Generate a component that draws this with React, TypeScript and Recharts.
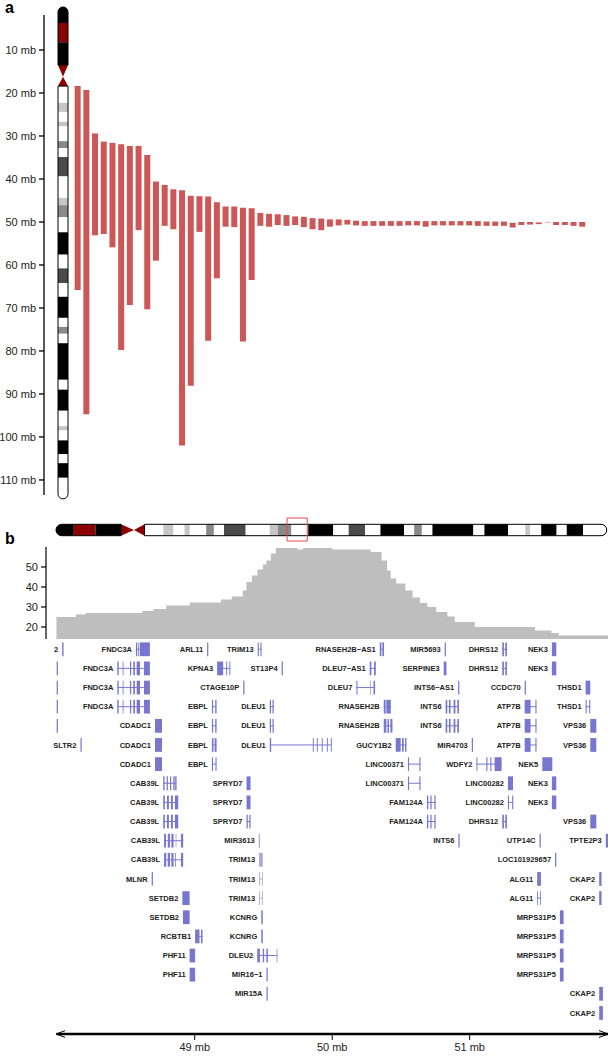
import React from 'react';
import {
  ComposedChart,
  AreaChart,
  Area,
  Bar,
  XAxis,
  YAxis,
  ReferenceArea,
  ReferenceLine,
  Rectangle,
} from 'recharts';

const FONT = '"Liberation Sans", Arial, Helvetica, sans-serif';

// ---------- Panel a: deleted segments on chromosome 13 (Mb) ----------
const segStart = [
  18.4, 19.3, 29.4, 31.3, 31.6, 31.9, 32.3, 32.3, 34.4, 40.6, 41.4, 42.4, 42.6, 43.9, 44.0, 44.1,
  45.4, 46.4, 46.4, 46.7, 46.8, 47.9, 48.1, 48.2, 48.4, 48.7, 48.8, 49.1, 49.2, 49.4, 49.4, 49.5,
  49.7, 49.8, 49.8, 49.8, 49.8, 49.8, 49.8, 49.8, 49.8, 49.8, 49.8, 49.8, 49.8, 49.8, 49.8, 49.9,
  49.9, 49.9, 50.2, 50.0, 50.0, 50.1, 50.1, 50.0, 50.0, 50.0, 50.0,
];
const segEnd = [
  65.8, 94.7, 53.1, 52.8, 55.9, 79.8, 69.3, 51.9, 70.3, 59.0, 50.9, 51.7, 102.0, 88.1, 52.3, 77.6,
  63.1, 51.1, 51.2, 77.8, 63.5, 50.9, 51.1, 50.7, 50.9, 50.7, 51.2, 51.7, 51.9, 51.1, 50.8, 50.6,
  50.8, 50.9, 50.9, 50.9, 50.9, 50.9, 50.8, 50.8, 51.1, 50.8, 50.8, 50.8, 50.8, 50.8, 50.9, 50.9,
  50.9, 50.9, 51.3, 50.7, 50.6, 50.5, 50.2, 50.7, 50.7, 50.9, 51.1,
];
const mbTicks = [10, 20, 30, 40, 50, 60, 70, 80, 90, 100, 110];

// ---------- Chromosome 13 ideogram bands (Mb) ----------
const bandStart = [
  0, 3.7, 8.2, 13.5, 16.2, 18.4, 22.3, 24.4, 26.7, 27.8, 31.2, 32.8, 34.9, 39.4, 44.4, 46.1, 48.9,
  52.4, 57.6, 60.8, 64.2, 67.4, 72.3, 74.4, 76.0, 78.2, 86.7, 89.0, 93.9, 97.5, 98.5, 100.8, 104.0,
  106.1, 109.5,
];
const bandEnd = [
  3.7, 8.2, 13.5, 16.2, 18.4, 22.3, 24.4, 26.7, 27.8, 31.2, 32.8, 34.9, 39.4, 44.4, 46.1, 48.9, 52.4,
  57.6, 60.8, 64.2, 67.4, 72.3, 74.4, 76.0, 78.2, 86.7, 89.0, 93.9, 97.5, 98.5, 100.8, 104.0, 106.1,
  109.5, 114.4,
];
const bandStain = [
  'gvar', 'stalk', 'gvar', 'acen', 'acen', 'gneg', 'gpos25', 'gneg', 'gpos25', 'gneg', 'gpos50',
  'gneg', 'gpos75', 'gneg', 'gpos25', 'gpos50', 'gneg', 'gpos100', 'gneg', 'gpos75', 'gneg',
  'gpos100', 'gneg', 'gpos50', 'gneg', 'gpos100', 'gneg', 'gpos100', 'gneg', 'gpos25', 'gneg',
  'gpos100', 'gneg', 'gpos100', 'gneg',
];
const stainColor: Record<string, string> = {
  gneg: '#ffffff',
  gpos25: '#c6c6c6',
  gpos50: '#8a8a8a',
  gpos75: '#4a4a4a',
  gpos100: '#000000',
  gvar: '#000000',
  stalk: '#8b0000',
  acen: '#8b0000',
};
const zoomRegion = [48.0, 52.2];

// ---------- Panel b: coverage profile (step positions in Mb, value) ----------
const covPos = [
  47.994, 48.135, 48.207, 48.619, 48.699, 48.792, 48.964, 49.19, 49.269, 49.349, 49.376, 49.416,
  49.456, 49.496, 49.522, 49.554, 49.589, 49.748, 49.788, 50.0, 50.28, 50.359, 50.399, 50.425,
  50.465, 50.532, 50.585, 50.638, 50.691, 50.757, 50.837, 50.891, 51.037, 51.475, 51.595, 51.648,
  52.006,
];
const covVal = [
  25, 26.2, 27, 28, 29, 30.8, 32.2, 33.7, 35.3, 38.3, 42.5, 45.8, 48.7, 51.2, 53.3, 56.7, 59.5, 58.7,
  59.5, 58.7, 57.5, 53.3, 48.3, 44.2, 41.7, 38.3, 34.7, 32, 30, 27.5, 25.3, 22.5, 20, 18.3, 17, 15.8,
  15.8,
];
const covTicks = [20, 30, 40, 50];

// ---------- Gene track: [row, name, exons in Mb, pale?] ----------
type Gene = [number, string, number[][], boolean?];
const genes: Gene[] = [
  [0, '2', [[48.036, 48.046]]],
  [0, 'FNDC3A', [[48.573, 48.582], [48.59, 48.597], [48.602, 48.674]]],
  [0, 'ARL11', [[49.09, 49.099]]],
  [0, 'TRIM13', [[49.458, 49.466], [49.478, 49.486]]],
  [0, 'RNASEH2B\u2212AS1', [[50.346, 50.358], [50.365, 50.377]]],
  [0, 'MIR5693', [[50.818, 50.827]]],
  [0, 'DHRS12', [[51.237, 51.249], [51.259, 51.271]]],
  [0, 'NEK3', [[51.598, 51.63]]],

  [1, '', [[47.996, 48.005]]],
  [1, 'FNDC3A', [[48.437, 48.447], [48.476, 48.482], [48.529, 48.538], [48.553, 48.565], [48.578, 48.602], [48.631, 48.674]]],
  [1, 'KPNA3', [[49.163, 49.207], [49.229, 49.236], [49.252, 49.259]]],
  [1, 'ST13P4', [[49.632, 49.641]]],
  [1, 'DLEU7\u2212AS1', [[50.273, 50.285], [50.304, 50.317]]],
  [1, 'SERPINE3', [[50.811, 50.831]]],
  [1, 'DHRS12', [[51.237, 51.249], [51.259, 51.271]]],
  [1, 'NEK3', [[51.598, 51.63]]],

  [2, '', [[47.996, 48.005]]],
  [2, 'FNDC3A', [[48.437, 48.447], [48.476, 48.482], [48.529, 48.538], [48.553, 48.565], [48.578, 48.602], [48.631, 48.674]]],
  [2, 'CTAGE10P', [[49.353, 49.362]]],
  [2, 'DLEU7', [[50.176, 50.184], [50.276, 50.28], [50.3, 50.312]]],
  [2, 'INTS6\u2212AS1', [[50.916, 50.925]]],
  [2, 'CCDC70', [[51.4, 51.409]]],
  [2, 'THSD1', [[51.843, 51.877]]],

  [3, '', [[47.996, 48.005]]],
  [3, 'FNDC3A', [[48.437, 48.447], [48.476, 48.482], [48.529, 48.538], [48.553, 48.565], [48.578, 48.602], [48.631, 48.674]]],
  [3, 'EBPL', [[49.125, 49.134], [49.149, 49.159]]],
  [3, 'DLEU1', [[49.546, 49.555], [49.566, 49.575]]],
  [3, 'RNASEH2B', [[50.375, 50.389], [50.394, 50.426]]],
  [3, 'INTS6', [[50.825, 50.837], [50.849, 50.861], [50.883, 50.896], [50.91, 50.922]]],
  [3, 'ATP7B', [[51.4, 51.443], [51.478, 51.486]]],
  [3, 'THSD1', [[51.843, 51.851], [51.869, 51.877]]],

  [4, '', [[47.996, 48.005]]],
  [4, 'CDADC1', [[48.711, 48.762]]],
  [4, 'EBPL', [[49.125, 49.134], [49.149, 49.159]]],
  [4, 'DLEU1', [[49.546, 49.555], [49.566, 49.575]]],
  [4, 'RNASEH2B', [[50.375, 50.394], [50.402, 50.413], [50.423, 50.438]]],
  [4, 'INTS6', [[50.825, 50.837], [50.849, 50.861], [50.883, 50.896], [50.91, 50.922]]],
  [4, 'ATP7B', [[51.4, 51.443], [51.478, 51.486]]],
  [4, 'VPS36', [[51.877, 51.921]]],

  [5, 'SLTR2', [[48.169, 48.178]]],
  [5, 'CDADC1', [[48.711, 48.762]]],
  [5, 'EBPL', [[49.125, 49.137], [49.145, 49.159]]],
  [5, 'DLEU1', [[49.546, 49.556], [49.859, 49.866], [49.888, 49.895], [49.924, 49.931], [49.961, 49.968], [49.99, 49.997]]],
  [5, 'GUCY1B2', [[50.462, 50.498], [50.508, 50.52], [50.53, 50.54]]],
  [5, 'MIR4703', [[51.015, 51.024]]],
  [5, 'ATP7B', [[51.4, 51.443], [51.478, 51.486]]],
  [5, 'VPS36', [[51.877, 51.921]]],

  [6, 'CDADC1', [[48.711, 48.762]]],
  [6, 'EBPL', [[49.125, 49.133], [49.151, 49.159]]],
  [6, 'LINC00371', [[50.551, 50.559], [50.634, 50.642]]],
  [6, 'WDFY2', [[51.049, 51.056], [51.121, 51.129], [51.15, 51.158], [51.181, 51.232]]],
  [6, 'NEK5', [[51.528, 51.601]]],

  [7, 'CAB39L', [[48.771, 48.781], [48.796, 48.805], [48.82, 48.829], [48.844, 48.854], [48.858, 48.868]]],
  [7, 'SPRYD7', [[49.377, 49.406]]],
  [7, 'LINC00371', [[50.551, 50.559], [50.634, 50.642]]],
  [7, 'LINC00282', [[51.278, 51.315]]],
  [7, 'NEK3', [[51.598, 51.63]]],

  [8, 'CAB39L', [[48.771, 48.783], [48.798, 48.812], [48.827, 48.841], [48.856, 48.88]]],
  [8, 'SPRYD7', [[49.377, 49.406]]],
  [8, 'FAM124A', [[50.689, 50.699], [50.714, 50.723], [50.743, 50.752]]],
  [8, 'LINC00282', [[51.278, 51.286], [51.309, 51.317]]],
  [8, 'NEK3', [[51.598, 51.63]]],

  [9, 'CAB39L', [[48.771, 48.783], [48.798, 48.812], [48.827, 48.841], [48.856, 48.88]]],
  [9, 'SPRYD7', [[49.377, 49.386], [49.397, 49.406]]],
  [9, 'FAM124A', [[50.689, 50.699], [50.714, 50.723], [50.743, 50.752]]],
  [9, 'DHRS12', [[51.237, 51.249], [51.259, 51.271]]],
  [9, 'VPS36', [[51.877, 51.921]]],

  [10, 'CAB39L', [[48.777, 48.791], [48.804, 48.82], [48.83, 48.846], [48.862, 48.866], [48.9, 48.916]]],
  [10, 'MIR3613', [[49.466, 49.475]], true],
  [10, 'INTS6', [[50.918, 50.927]]],
  [10, 'UTP14C', [[51.508, 51.517]]],
  [10, 'TPTE2P3', [[51.99, 52.006]]],

  [11, 'CAB39L', [[48.777, 48.793], [48.804, 48.82], [48.83, 48.846], [48.856, 48.862], [48.9, 48.916]]],
  [11, 'TRIM13', [[49.468, 49.495]], true],
  [11, 'LOC101929657', [[51.621, 51.63]]],

  [12, 'MLNR', [[48.687, 48.696]]],
  [12, 'TRIM13', [[49.468, 49.474], [49.489, 49.495]], true],
  [12, 'ALG11', [[51.491, 51.518]]],
  [12, 'CKAP2', [[51.942, 51.959]]],

  [13, 'SETDB2', [[48.91, 48.963]]],
  [13, 'TRIM13', [[49.468, 49.474], [49.489, 49.495]], true],
  [13, 'ALG11', [[51.491, 51.497], [51.512, 51.518]]],
  [13, 'CKAP2', [[51.942, 51.959]]],

  [14, 'SETDB2', [[48.915, 48.963]]],
  [14, 'KCNRG', [[49.484, 49.495]]],
  [14, 'MRPS31P5', [[51.656, 51.683]]],

  [15, 'RCBTB1', [[49.003, 49.035], [49.046, 49.057]]],
  [15, 'KCNRG', [[49.484, 49.495]]],
  [15, 'MRPS31P5', [[51.656, 51.683]]],

  [16, 'PHF11', [[48.963, 49.003]]],
  [16, 'DLEU2', [[49.455, 49.474], [49.495, 49.505], [49.521, 49.532], [49.596, 49.601]]],
  [16, 'MRPS31P5', [[51.656, 51.683]]],

  [17, 'PHF11', [[48.963, 49.003]]],
  [17, 'MIR16\u22121', [[49.522, 49.531]]],
  [17, 'MRPS31P5', [[51.656, 51.683]]],

  [18, 'MIR15A', [[49.522, 49.531]]],
  [18, 'CKAP2', [[51.942, 51.969]]],

  [19, 'CKAP2', [[51.942, 51.969]]],
];
const geneAxisTicks = [49, 50, 51];

// ---------- helpers ----------
const BAR_RED = '#cd5757';
const GENE_BLUE = '#7777d0';
const GENE_PALE = '#a9a9e2';
const ACEN_RED = '#8b0000';

function ideogramBands(orientation: 'v' | 'h', cross: [number, number], r: number) {
  const n = bandStart.length;
  const acenIdx = bandStain.map((s, i) => (s === 'acen' ? i : -1)).filter((i) => i >= 0);
  const qStart = bandEnd[acenIdx[acenIdx.length - 1]];
  const pEnd = bandStart[acenIdx[0]];
  const pos = (a: number, b: number) =>
    orientation === 'v'
      ? { x1: cross[0], x2: cross[1], y1: a, y2: b }
      : { x1: a, x2: b, y1: cross[0], y2: cross[1] };
  const out: React.ReactNode[] = [];
  for (let i = 0; i < n; i++) {
    const color = stainColor[bandStain[i]];
    let shape: any;
    if (bandStain[i] === 'acen') {
      const first = i === acenIdx[0];
      shape = (p: any) => {
        const { x, y, width: w, height: h } = p;
        let pts = '';
        if (orientation === 'v') {
          pts = first
            ? `${x},${y} ${x + w},${y} ${x + w / 2},${y + h}`
            : `${x + w / 2},${y} ${x + w},${y + h} ${x},${y + h}`;
        } else {
          pts = first
            ? `${x},${y} ${x + w},${y + h / 2} ${x},${y + h}`
            : `${x},${y + h / 2} ${x + w},${y} ${x + w},${y + h}`;
        }
        return <polygon points={pts} fill={ACEN_RED} />;
      };
    } else if (i === 0) {
      shape = (p: any) => (
        <Rectangle
          x={p.x}
          y={p.y}
          width={p.width}
          height={p.height}
          radius={orientation === 'v' ? [r, r, 0, 0] : [r, 0, 0, r]}
          fill={color}
        />
      );
    } else if (i === n - 1) {
      shape = (p: any) => (
        <Rectangle
          x={p.x}
          y={p.y}
          width={p.width}
          height={p.height}
          radius={orientation === 'v' ? [0, 0, r, r] : [0, r, r, 0]}
          fill={color}
        />
      );
    } else {
      shape = (p: any) => <rect x={p.x} y={p.y} width={p.width} height={p.height} fill={color} />;
    }
    out.push(
      <ReferenceArea
        key={`band-${i}`}
        {...pos(bandStart[i], bandEnd[i])}
        ifOverflow="visible"
        shape={shape}
      />
    );
  }
  out.push(
    <ReferenceArea
      key="outline-p"
      {...pos(bandStart[0], pEnd)}
      ifOverflow="visible"
      shape={(p: any) => (
        <Rectangle
          x={p.x}
          y={p.y}
          width={p.width}
          height={p.height}
          radius={orientation === 'v' ? [r, r, 0, 0] : [r, 0, 0, r]}
          fill="none"
          stroke="#000"
          strokeWidth={1}
        />
      )}
    />
  );
  out.push(
    <ReferenceArea
      key="outline-q"
      {...pos(qStart, bandEnd[n - 1])}
      ifOverflow="visible"
      shape={(p: any) => (
        <Rectangle
          x={p.x}
          y={p.y}
          width={p.width}
          height={p.height}
          radius={orientation === 'v' ? [0, 0, r, r] : [0, r, r, 0]}
          fill="none"
          stroke="#000"
          strokeWidth={1}
        />
      )}
    />
  );
  return out;
}

const segData = segStart.map((s, i) => ({ pos: i, span: [s, segEnd[i]] }));
const covData = covPos.map((p, i) => ({ pos: p, cov: covVal[i] }));

const MbTick = (props: any) => {
  const { x, y, payload } = props;
  return (
    <text x={x} y={y} dy={4} textAnchor="end" fontSize={11} fill="#222" fontFamily={FONT}>
      {`${payload.value} mb`}
    </text>
  );
};

function PanelA() {
  return (
    <ComposedChart
      width={610}
      height={510}
      data={segData}
      margin={{ top: 15, right: 10, bottom: 15, left: 0 }}
    >
      <XAxis type="number" dataKey="pos" domain={[-3.91, 60]} hide allowDataOverflow />
      <YAxis
        type="number"
        domain={[1.86, 113.5]}
        reversed
        allowDataOverflow
        ticks={mbTicks}
        width={44}
        tickSize={5}
        tickMargin={3}
        axisLine={{ stroke: '#000', strokeWidth: 1.3 }}
        tickLine={{ stroke: '#000', strokeWidth: 1.3 }}
        tick={<MbTick />}
      />
      {ideogramBands('v', [-2.3, -1.15], 5)}
      <Bar dataKey="span" fill={BAR_RED} barSize={6} isAnimationActive={false} />
    </ComposedChart>
  );
}

function HorizontalIdeogram() {
  return (
    <ComposedChart
      width={610}
      height={45}
      data={[{ v: 0 }, { v: 114.4 }]}
      margin={{ top: 0, right: 3.3, bottom: 0, left: 56 }}
    >
      <XAxis type="number" dataKey="v" domain={[0, 114.4]} hide allowDataOverflow />
      <YAxis type="number" domain={[0, 45]} reversed hide allowDataOverflow />
      {ideogramBands('h', [19.3, 30.7], 6)}
      <ReferenceArea
        x1={zoomRegion[0]}
        x2={zoomRegion[1]}
        y1={13}
        y2={36}
        ifOverflow="visible"
        fill="none"
        fillOpacity={0}
        stroke="#e04848"
        strokeWidth={1}
      />
    </ComposedChart>
  );
}

function Coverage() {
  return (
    <AreaChart
      width={610}
      height={105}
      data={covData}
      margin={{ top: 7, right: 2, bottom: 6, left: 0 }}
    >
      <XAxis type="number" dataKey="pos" domain={[47.918, 52.006]} hide allowDataOverflow />
      <YAxis
        type="number"
        domain={[14, 60]}
        ticks={covTicks}
        width={46}
        tickSize={5}
        tickMargin={3}
        allowDataOverflow
        axisLine={{ stroke: '#000', strokeWidth: 1.2 }}
        tickLine={{ stroke: '#000', strokeWidth: 1.2 }}
        tick={{ fontSize: 11, fill: '#222', fontFamily: FONT }}
      />
      <Area
        type="stepAfter"
        dataKey="cov"
        fill="#bebebe"
        fillOpacity={1}
        stroke="none"
        baseValue={14}
        isAnimationActive={false}
      />
    </AreaChart>
  );
}

function GeneTrack() {
  const els: React.ReactNode[] = [];
  genes.forEach(([row, name, exons, pale], gi) => {
    const color = pale ? GENE_PALE : GENE_BLUE;
    const s = exons[0][0];
    const e = exons[exons.length - 1][1];
    if (exons.length > 1) {
      els.push(
        <ReferenceLine
          key={`intron-${gi}`}
          segment={[
            { x: s, y: row },
            { x: e, y: row },
          ]}
          stroke={color}
          strokeWidth={1}
          ifOverflow="visible"
        />
      );
    }
    exons.forEach(([a, b], ei) => {
      els.push(
        <ReferenceArea
          key={`exon-${gi}-${ei}`}
          x1={a}
          x2={b}
          y1={row - 0.36}
          y2={row + 0.36}
          fill={color}
          fillOpacity={1}
          stroke="none"
          ifOverflow="visible"
          label={
            ei === 0 && name
              ? {
                  value: name,
                  position: 'left',
                  offset: 4,
                  fontSize: 7.5,
                  fontWeight: 700,
                  fill: '#222',
                  fontFamily: FONT,
                }
              : undefined
          }
        />
      );
    });
  });
  return (
    <ComposedChart
      width={610}
      height={422}
      data={[{ x: 47.994 }, { x: 52.006 }]}
      margin={{ top: 3.7, right: 2, bottom: 0, left: 56.4 }}
    >
      <XAxis
        type="number"
        dataKey="x"
        domain={[47.994, 52.006]}
        allowDataOverflow
        ticks={geneAxisTicks}
        tickFormatter={(v: number) => `${v} mb`}
        height={24}
        tickSize={6}
        tickMargin={3}
        axisLine={{
          stroke: '#000',
          strokeWidth: 2.5,
          markerStart: 'url(#arrowStart)',
          markerEnd: 'url(#arrowEnd)',
        }}
        tickLine={{ stroke: '#000', strokeWidth: 1 }}
        tick={{ fontSize: 11, fill: '#222', fontFamily: FONT }}
      />
      <YAxis type="number" domain={[-0.5, 20.1]} reversed hide allowDataOverflow />
      {els}
    </ComposedChart>
  );
}

export default function App() {
  const abs = (top: number): React.CSSProperties => ({ position: 'absolute', left: 0, top });
  return (
    <div
      style={{
        position: 'absolute',
        left: 0,
        top: 0,
        width: 610,
        height: 1058,
        background: '#fff',
        overflow: 'hidden',
        fontFamily: FONT,
      }}
    >
      <svg width={0} height={0} style={{ position: 'absolute' }}>
        <defs>
          <marker
            id="arrowEnd"
            markerWidth={10}
            markerHeight={8}
            refX={9}
            refY={4}
            orient="auto"
            markerUnits="userSpaceOnUse"
          >
            <path d="M0,0.5 L9,4 L0,7.5" fill="none" stroke="#000" strokeWidth={1} />
          </marker>
          <marker
            id="arrowStart"
            markerWidth={10}
            markerHeight={8}
            refX={1}
            refY={4}
            orient="auto"
            markerUnits="userSpaceOnUse"
          >
            <path d="M10,0.5 L1,4 L10,7.5" fill="none" stroke="#000" strokeWidth={1} />
          </marker>
        </defs>
      </svg>
      <div style={abs(0)}>
        <PanelA />
      </div>
      <div style={abs(505)}>
        <HorizontalIdeogram />
      </div>
      <div style={abs(540)}>
        <Coverage />
      </div>
      <div style={abs(636)}>
        <GeneTrack />
      </div>
      <div style={{ position: 'absolute', left: 5, top: -1, fontSize: 16, fontWeight: 700 }}>a</div>
      <div style={{ position: 'absolute', left: 5, top: 530, fontSize: 16, fontWeight: 700 }}>b</div>
    </div>
  );
}
